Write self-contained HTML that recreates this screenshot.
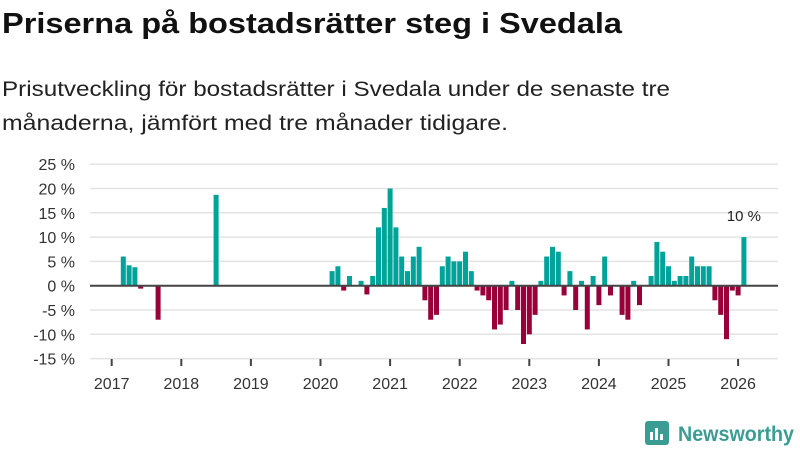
<!DOCTYPE html>
<html><head><meta charset="utf-8">
<style>
body{margin:0;background:#fff;}
svg{display:block;font-family:"Liberation Sans",sans-serif;}
</style></head>
<body>
<svg id="chart" width="800" height="450" viewBox="0 0 800 450">
<text x="2" y="33" font-size="29" font-weight="bold" fill="#111" textLength="620" lengthAdjust="spacingAndGlyphs">Priserna på bostadsrätter steg i Svedala</text>
<text x="2" y="96" font-size="21" fill="#222" textLength="668" lengthAdjust="spacingAndGlyphs">Prisutveckling för bostadsrätter i Svedala under de senaste tre</text>
<text x="2" y="130" font-size="21" fill="#222" textLength="506" lengthAdjust="spacingAndGlyphs">månaderna, jämfört med tre månader tidigare.</text>
<g id="grid"></g><g id="bars"></g><g id="axes"></g>
<g>
<rect x="645" y="421" width="24" height="24" rx="3" fill="#3b9c94"/>
<rect x="650" y="432" width="3" height="8" fill="#fff"/><rect x="655" y="428" width="3" height="12" fill="#fff"/><rect x="660" y="434" width="3" height="6" fill="#fff"/>
<text x="678" y="441" font-size="21" font-weight="bold" fill="#3b9c94" textLength="116" lengthAdjust="spacingAndGlyphs">Newsworthy</text>
</g>
</svg>
<script>
const yTicks=[25,20,15,10,5,0,-5,-10,-15];
const yearLabels=[2017,2018,2019,2020,2021,2022,2023,2024,2025,2026];
const monthIdx=[2,3,4,5,8,18,38,39,40,41,43,44,45,46,47,48,49,50,51,52,53,54,55,56,57,58,59,60,61,62,63,64,65,66,67,68,69,70,71,72,73,74,75,76,77,78,79,80,81,82,83,84,85,86,88,89,90,91,93,94,95,96,97,98,99,100,101,102,103,104,105,106,107,108,109];
const values=[6,4.2,3.8,-0.6,-7,18.7,3,4,-1,2,1,-1.8,2,12,16,20,12,6,3,6,8,-3,-7,-6,4,6,5,5,7,3,-1,-2,-3,-9,-8,-5,1,-5,-12,-10,-6,1,6,8,7,-2,3,-5,1,-9,2,-4,6,-2,-6,-7,1,-4,2,9,7,4,1,2,2,6,4,4,4,-3,-6,-11,-1,-2,10];
const lastLabel="10 %";
const NS="http://www.w3.org/2000/svg";
const x0=111.7, monthW=5.8, y0=285.7, pxPer=4.86;
const X=i=>x0+i*monthW;
const Y=v=>y0-v*pxPer;
function mk(tag,attrs,parent){const e=document.createElementNS(NS,tag);for(const k in attrs)e.setAttribute(k,attrs[k]);parent.appendChild(e);return e;}
const grid=document.getElementById('grid'),bars=document.getElementById('bars'),axes=document.getElementById('axes');
yTicks.forEach(t=>{
  const l=mk('line',{x1:90,x2:778,y1:Y(t),y2:Y(t),stroke:'#e3e3e3','stroke-width':1.5},grid);
  
  
  const tx=mk('text',{x:75,y:Y(t)+6,'text-anchor':'end','font-size':16,fill:'#333'},grid);
  tx.textContent=t+' %';
  
  
});
monthIdx.forEach((m,k)=>{
  const v=values[k];
  const r=mk('rect',{x:X(m)-2.5,width:5,y:Math.min(Y(v),y0),height:Math.abs(Y(v)-y0),fill:v>=0?'#00a39a':'#990039'},bars);
  
  
});
const zl=mk('line',{x1:90,x2:778,y1:y0,y2:y0,stroke:'#444','stroke-width':2},axes);


yearLabels.forEach((yr,k)=>{
  const x=X(k*12);
  const t=mk('line',{x1:x,x2:x,y1:359,y2:366,stroke:'#444','stroke-width':2},axes);
  
  
  const tx=mk('text',{x:x,y:389,'text-anchor':'middle','font-size':16,fill:'#333'},axes);
  tx.textContent=yr;
  
  
});
const li=monthIdx.length-1;
const lb=mk('text',{x:X(monthIdx[li]),y:Y(values[li])-16,'text-anchor':'middle','font-size':15,fill:'#222'},axes);
lb.textContent=lastLabel;


</script>
</body></html>
